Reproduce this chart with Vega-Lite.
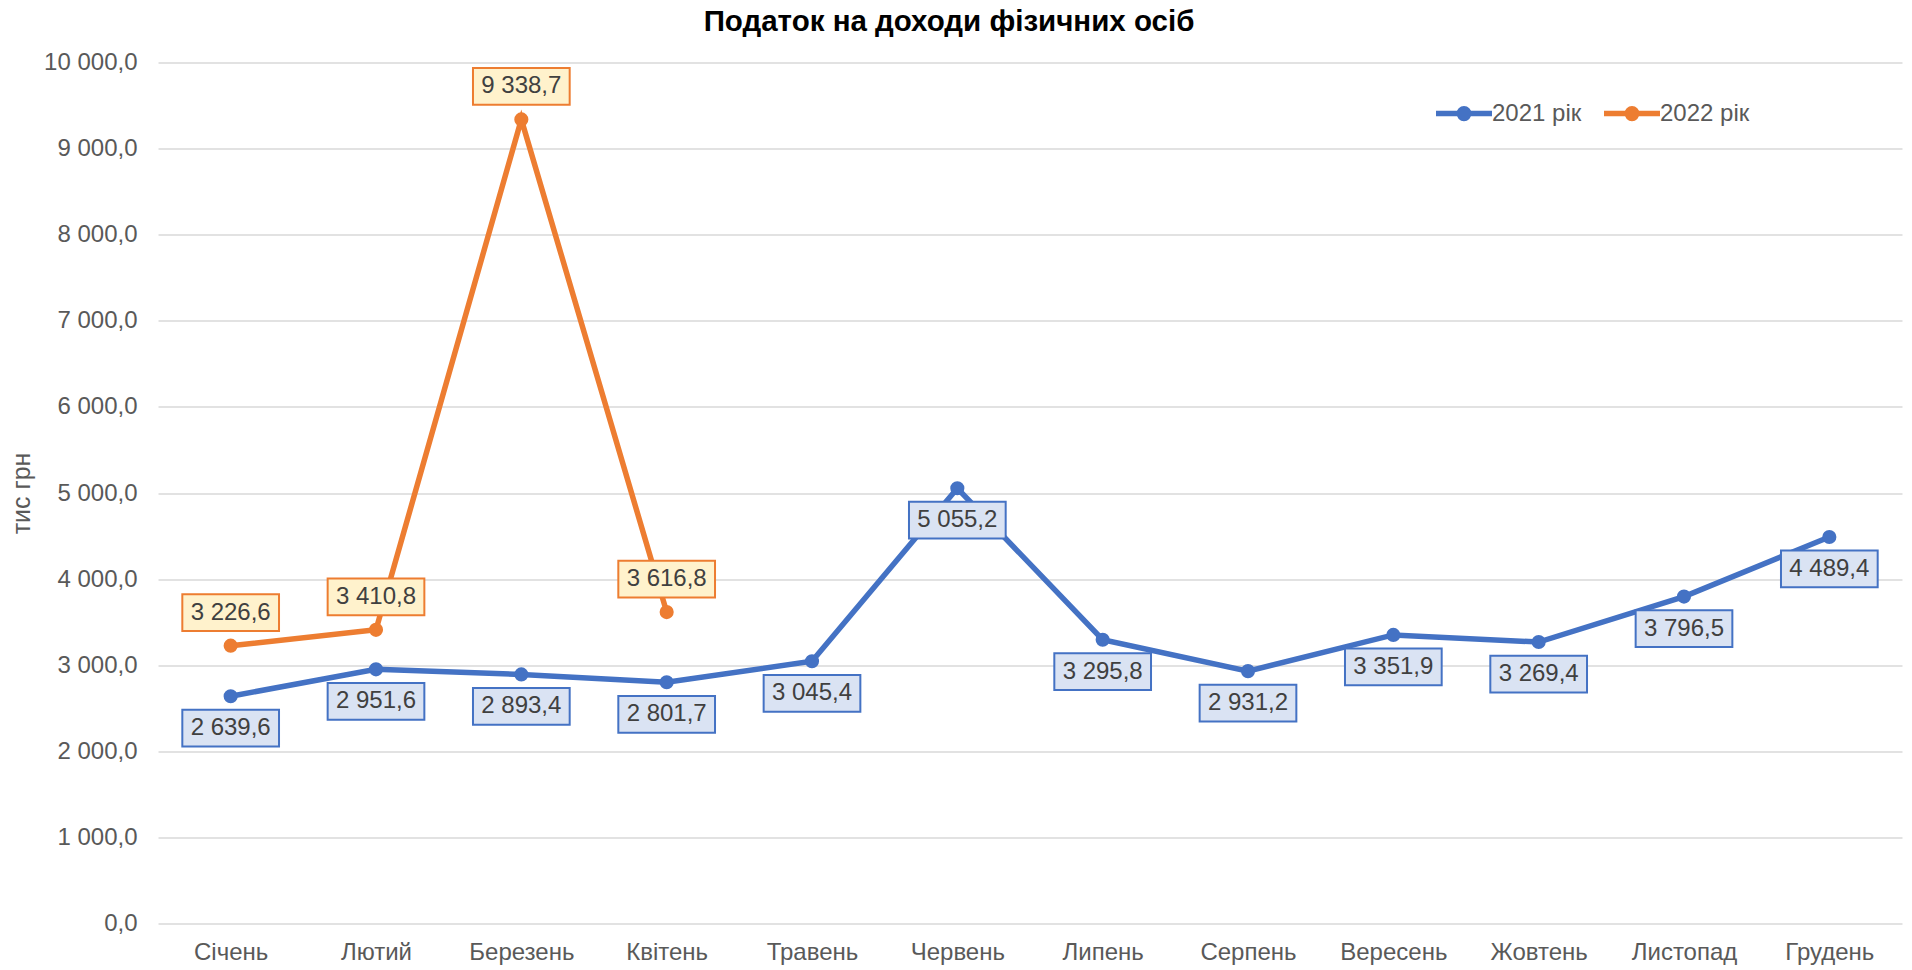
{
  "$schema": "https://vega.github.io/schema/vega-lite/v6.json",
  "autosize": {"type": "none"},
  "padding": {"left": 158, "top": 62.5, "right": 10, "bottom": 46.5},
  "width": 1744,
  "height": 861,
  "title": {
    "text": "Податок на доходи фізичних осіб",
    "fontSize": 29.5,
    "fontWeight": "bold",
    "color": "#000000",
    "anchor": "middle",
    "frame": "group",
    "dx": -81,
    "offset": 13
  },
  "config": {
    "font": "Liberation Sans",
    "view": {"stroke": null},
    "locale": {"number": {"decimal": ",", "thousands": " ", "grouping": [3], "currency": ["", ""]}}
  },
  "data": {
    "values": [
      {"month": "Січень", "year": "2021 рік", "value": 2639.6},
      {"month": "Лютий", "year": "2021 рік", "value": 2951.6},
      {"month": "Березень", "year": "2021 рік", "value": 2893.4},
      {"month": "Квітень", "year": "2021 рік", "value": 2801.7},
      {"month": "Травень", "year": "2021 рік", "value": 3045.4},
      {"month": "Червень", "year": "2021 рік", "value": 5055.2},
      {"month": "Липень", "year": "2021 рік", "value": 3295.8},
      {"month": "Серпень", "year": "2021 рік", "value": 2931.2},
      {"month": "Вересень", "year": "2021 рік", "value": 3351.9},
      {"month": "Жовтень", "year": "2021 рік", "value": 3269.4},
      {"month": "Листопад", "year": "2021 рік", "value": 3796.5},
      {"month": "Грудень", "year": "2021 рік", "value": 4489.4},
      {"month": "Січень", "year": "2022 рік", "value": 3226.6},
      {"month": "Лютий", "year": "2022 рік", "value": 3410.8},
      {"month": "Березень", "year": "2022 рік", "value": 9338.7},
      {"month": "Квітень", "year": "2022 рік", "value": 3616.8}
    ]
  },
  "encoding": {
    "x": {
      "field": "month",
      "type": "nominal",
      "sort": ["Січень", "Лютий", "Березень", "Квітень", "Травень", "Червень", "Липень", "Серпень", "Вересень", "Жовтень", "Листопад", "Грудень"],
      "scale": {"type": "point", "padding": 0.5},
      "axis": {
        "title": null,
        "labelAngle": 0,
        "labelFontSize": 24,
        "labelColor": "#595959",
        "labelPadding": 17,
        "ticks": false,
        "tickSize": 0,
        "domain": false,
        "grid": false
      }
    },
    "y": {
      "field": "value",
      "type": "quantitative",
      "scale": {"domain": [0, 10000], "nice": false},
      "axis": {
        "title": "тис грн",
        "titleFontSize": 25,
        "titleFontWeight": "normal",
        "titleColor": "#595959",
        "titlePadding": 9,
        "values": [0, 1000, 2000, 3000, 4000, 5000, 6000, 7000, 8000, 9000, 10000],
        "format": ",.1f",
        "labelFontSize": 24,
        "labelColor": "#595959",
        "labelPadding": 21,
        "ticks": false,
        "tickSize": 0,
        "domain": false,
        "grid": true,
        "gridColor": "#D9D9D9",
        "gridWidth": 1.5
      }
    }
  },
  "layer": [
    {
      "mark": {"type": "line", "strokeWidth": 5.5},
      "encoding": {
        "color": {
          "field": "year",
          "type": "nominal",
          "scale": {"domain": ["2021 рік", "2022 рік"], "range": ["#4472C4", "#ED7D31"]},
          "legend": {
            "title": null,
            "orient": "none",
            "legendX": 1275,
            "legendY": 20,
            "direction": "horizontal",
            "padding": 0,
            "symbolType": "M-1,0H1M-0.17,0A0.17,0.17,0,1,1,0.17,0A0.17,0.17,0,1,1,-0.17,0Z",
            "symbolSize": 3136,
            "symbolStrokeWidth": 5.5,
            "labelFontSize": 24,
            "labelColor": "#595959",
            "labelOffset": -3,
            "columnPadding": 11,
            "encode": {
              "symbols": {
                "update": {
                  "fill": {"scale": "color", "field": "value"},
                  "stroke": {"scale": "color", "field": "value"},
                  "opacity": {"value": 1}
                }
              }
            }
          }
        }
      }
    },
    {
      "mark": {"type": "point", "filled": true, "size": 200, "opacity": 1},
      "encoding": {
        "color": {"field": "year", "type": "nominal"}
      }
    },
    {
      "transform": [{"filter": "datum.year === '2021 рік'"}],
      "mark": {
        "type": "point",
        "shape": "M-1,-0.38H1V0.38H-1Z",
        "size": 9351,
        "filled": true,
        "fill": "#DAE3F3",
        "stroke": "#4472C4",
        "strokeWidth": 2,
        "opacity": 1,
        "yOffset": 32
      }
    },
    {
      "transform": [{"filter": "datum.year === '2021 рік'"}],
      "mark": {"type": "text", "fontSize": 24, "color": "#404040", "baseline": "middle", "align": "center", "yOffset": 32},
      "encoding": {"text": {"field": "value", "type": "quantitative", "format": ",.1f"}}
    },
    {
      "transform": [{"filter": "datum.year === '2022 рік'"}],
      "mark": {
        "type": "point",
        "shape": "M-1,-0.38H1V0.38H-1Z",
        "size": 9351,
        "filled": true,
        "fill": "#FFF2CC",
        "stroke": "#ED7D31",
        "strokeWidth": 2,
        "opacity": 1,
        "yOffset": -33
      }
    },
    {
      "transform": [{"filter": "datum.year === '2022 рік'"}],
      "mark": {"type": "text", "fontSize": 24, "color": "#404040", "baseline": "middle", "align": "center", "yOffset": -33},
      "encoding": {"text": {"field": "value", "type": "quantitative", "format": ",.1f"}}
    }
  ]
}
